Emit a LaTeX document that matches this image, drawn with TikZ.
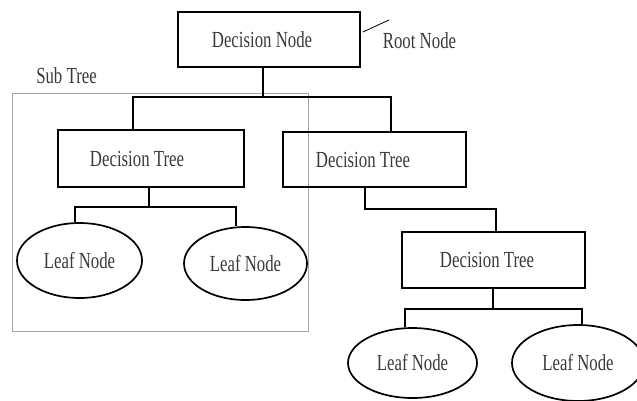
\documentclass[tikz,border=0pt]{standalone}
\usepackage{fontspec}
\setmainfont{Liberation Serif}[FakeStretch=0.73]
\usetikzlibrary{shapes.geometric,calc}
\definecolor{txt}{HTML}{3a3a3a}
\begin{document}
\begin{tikzpicture}[x=1pt,y=-1pt,
  every node/.style={font=\fontsize{23}{27}\selectfont, text=txt, inner sep=0pt},
  dbox/.style={draw=black, line width=1.7pt, rectangle},
  leaf/.style={draw=black, line width=1.7pt, ellipse},
  conn/.style={draw=black, line width=1.7pt},
  lbl/.style={}]
\useasboundingbox (0,0) rectangle (637,400);
% sub tree frame
\draw[gray!70, line width=0.9pt] (12,93) rectangle (308,331);
\node[lbl] (subtree) at (66.5,76) {Sub Tree};
% nodes
\node[dbox, minimum width=182pt, minimum height=55pt] (root) at (269,39.5) {\hspace*{-14pt}Decision Node};
\node[lbl] (rootlbl) at (419.5,41) {Root Node};
\node[dbox, minimum width=186pt, minimum height=57pt] (dt1) at (151,158.5) {\hspace*{-28pt}Decision Tree};
\node[dbox, minimum width=183pt, minimum height=55pt] (dt2) at (374.5,159.5) {\hspace*{-23pt}Decision Tree};
\node[dbox, minimum width=183pt, minimum height=56pt] (dt3) at (493.5,260) {\hspace*{-13pt}Decision Tree};
\node[leaf, minimum width=125pt, minimum height=75pt] (leaf1) at (79.5,260.5) {Leaf Node};
\node[leaf, minimum width=123pt, minimum height=73pt] (leaf2) at (245.5,263.5) {Leaf Node};
\node[leaf, minimum width=129pt, minimum height=70pt] (leaf3) at (412.5,363) {Leaf Node};
\node[leaf, minimum width=132pt, minimum height=76pt] (leaf4) at (578,363) {Leaf Node};
% root label pointer
\coordinate (rp) at (389,20);
\draw[black, line width=0.8pt] ($(root.east)+(2,-7.5)$) -- (rp);
% bus coordinates
\coordinate (b1) at (263,97);
\coordinate (b2) at (149,207);
\coordinate (b3) at (365,209);
\coordinate (b4) at (493,309);
% connectors
\draw[conn] (root.south -| b1) -- (b1);
\draw[conn] ($(dt1.north)+(-18,0)$) |- (b1) -| ($(dt2.north)+(16.5,0)$);
\draw[conn] (dt1.south -| b2) -- (b2);
\draw[conn] (leaf1.north -| 75,0) |- (b2) -| (leaf2.north -| 236,0);
\draw[conn] (dt2.south -| b3) -- (b3) -| (dt3.north -| 496,0);
\draw[conn] (dt3.south -| b4) -- (b4);
\draw[conn] (leaf3.north -| 405,0) |- (b4) -| (leaf4.north -| 582,0);
\end{tikzpicture}
\end{document}
